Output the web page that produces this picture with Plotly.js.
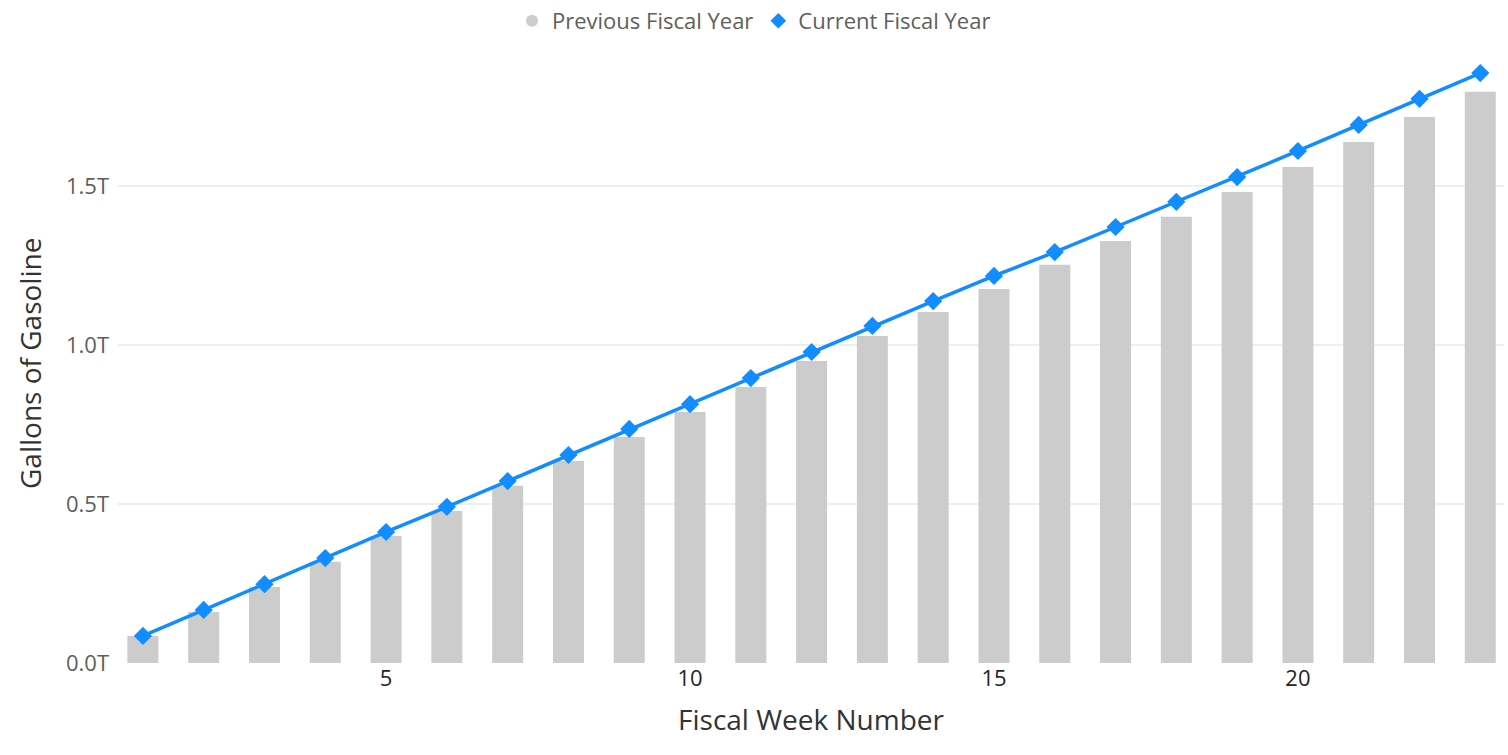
<!DOCTYPE html>
<html>
<head>
<meta charset="utf-8">
<script src="https://cdn.plot.ly/plotly-3.0.1.min.js"></script>
<style>html,body{margin:0;padding:0;background:#fff;}#chart{width:1508px;height:755px;}</style>
</head>
<body>
<div id="chart"></div>
<script>
const weeks = [1,2,3,4,5,6,7,8,9,10,11,12,13,14,15,16,17,18,19,20,21,22,23];
const previousFY = [0.085,0.160,0.239,0.318,0.399,0.478,0.557,0.635,0.711,0.789,0.868,0.950,1.028,1.104,1.176,1.252,1.327,1.403,1.481,1.560,1.638,1.717,1.796];
const currentFY = [0.085,0.167,0.248,0.330,0.412,0.491,0.572,0.654,0.736,0.814,0.896,0.978,1.060,1.138,1.217,1.292,1.371,1.450,1.528,1.610,1.692,1.774,1.855];
const yTickVals = [0, 0.5, 1.0, 1.5];
const yTickText = ['0.0T', '0.5T', '1.0T', '1.5T'];
const xTickVals = [5, 10, 15, 20];

const font = '"Open Sans", "Segoe UI", sans-serif';
const traces = [
  {type:'bar', x: weeks, y: previousFY, name:'Previous Fiscal Year', marker:{color:'#cccccc'}, width:0.51, showlegend:false, hoverinfo:'x+y'},
  {type:'scatter', mode:'lines+markers', x: weeks, y: currentFY, name:'Current Fiscal Year', showlegend:false,
   line:{color:'#118dff', width:3.5}, marker:{color:'#118dff', symbol:'diamond', size:14}},
  {type:'scatter', mode:'markers', x:[null], y:[null], name:'Previous Fiscal Year', marker:{color:'#cccccc', symbol:'circle', size:18}},
  {type:'scatter', mode:'markers', x:[null], y:[null], name:'Current Fiscal Year', marker:{color:'#118dff', symbol:'diamond', size:18}}
];
const layout = {
  width:1508, height:755,
  margin:{l:118, r:4, t:40, b:92, autoexpand:false},
  paper_bgcolor:'#fff', plot_bgcolor:'#fff',
  font:{family:font},
  showlegend:true,
  legend:{orientation:'h', x:0.5, xref:'container', xanchor:'center', y:1, yanchor:'top', yref:'container', font:{size:22, color:'#605e5c', family:font}, itemwidth:30, tracegroupgap:0, itemsizing:'constant'},
  xaxis:{range:[0.59, 23.39], tickvals:xTickVals, showgrid:false, zeroline:false, showline:false, ticks:'', automargin:false,
    tickfont:{size:22, color:'#252423'}, title:{text:'Fiscal Week Number', font:{size:28, color:'#333'}, standoff:19}},
  yaxis:{range:[0, 1.959], tickvals:yTickVals, ticktext:yTickText, showgrid:true, gridcolor:'#eeeeee', gridwidth:1.5, zeroline:false, automargin:false,
    tickfont:{size:22, color:'#605e5c'}, ticklabelstandoff:8},
  annotations:[{text:'Gallons of Gasoline', xref:'paper', yref:'paper', x:(30-118)/1386, y:(663-364)/623, xanchor:'center', yanchor:'middle', textangle:-90, showarrow:false, font:{size:28, color:'#333', family:font}}],
  bargap:0.49
};
Plotly.newPlot('chart', traces, layout, {displayModeBar:false});
</script>
</body>
</html>
